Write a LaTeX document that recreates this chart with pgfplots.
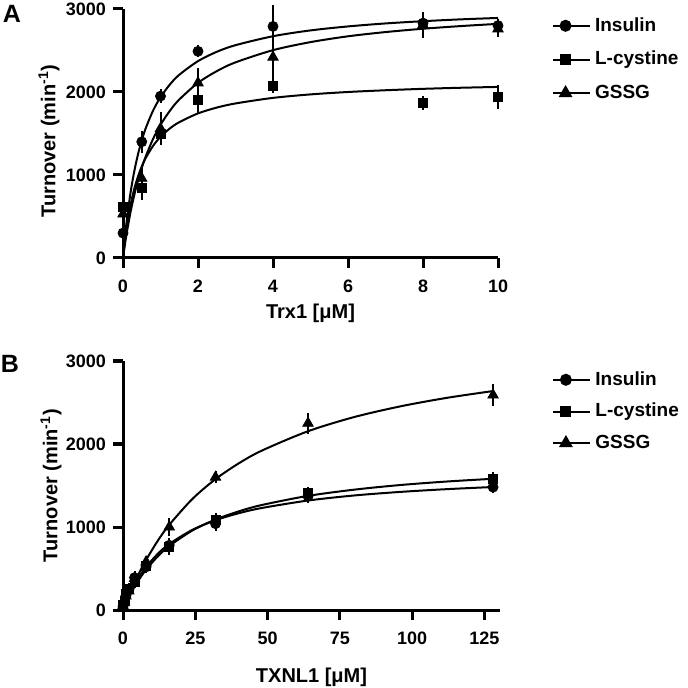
\documentclass[border=0pt]{standalone}
\usepackage{pgfplots}
\pgfplotsset{compat=1.18}
\usepackage{fontspec}
\setmainfont{Liberation Sans}

\pgfplotsset{
  myaxis/.style={
    scale only axis,
    axis lines*=left,
    axis line style={line width=1.5pt,-},
    tick align=outside,
    tickwidth=5pt,
    major tick style={draw=black, line width=1.5pt},
    ymin=0, ymax=3000, ytick={0,1000,2000,3000},
    /pgf/number format/assume math mode=true,
    /pgf/number format/1000 sep={},
    scaled ticks=false,
    clip=false,
    xticklabel style={font=\fontsize{9}{11}\selectfont\bfseries, yshift=-2.5pt},
    yticklabel style={font=\fontsize{9}{11}\selectfont\bfseries},
    label style={font=\fontsize{10}{12}\selectfont\bfseries},
    ylabel={Turnover (min\textsuperscript{-1})},
    legend style={draw=none, fill=none, anchor=north west, row sep=4.5pt,
      font=\fontsize{9.5}{11}\selectfont\bfseries},
    legend cell align=left,
    legend image code/.code={%
      \draw[mark repeat=2,mark phase=2] plot coordinates {(0cm,0cm) (0.22cm,0cm) (0.44cm,0cm)};
      \path (0.44cm,0cm) -- (0.44cm+6pt,0cm);},
  },
  curve/.style={black, line width=1pt, smooth, forget plot, no marks},
  pts/.style={black, only marks, forget plot,
    error bars/y dir=both, error bars/y explicit,
    error bars/error bar style={line width=1pt},
    error bars/error mark options={line width=1pt, mark size=2.25pt}},
}

\begin{document}
\begin{tikzpicture}
\useasboundingbox (-61.5pt,-215pt) rectangle (282.5pt,129pt);

% ---------------- Panel A ----------------
\begin{axis}[myaxis,
  at={(0pt,0pt)}, anchor=origin,
  width=187.5pt, height=124.5pt,
  xmin=0, xmax=10, xtick={0,2,...,10},
  xlabel={Trx1 [μM]},
  xlabel style={at={(axis description cs:0.5,0)}, anchor=center, yshift=-27.5pt},
  ylabel style={at={(axis description cs:0,0.47)}, anchor=center, yshift=37pt},
  legend style={at={(1.127,1.0)}},
]
\addplot[curve] coordinates {(0,0) (0.05,242.9) (0.1,450) (0.2,784.6) (0.3,1043) (0.4,1249) (0.5,1417) (0.6,1556) (0.8,1774) (1,1937) (1.25,2090) (1.5,2207) (2,2372) (2.5,2484) (3,2564) (4,2672) (5,2742) (6,2790) (7,2826) (8,2853) (9,2875) (10,2892)};
\addplot[curve] coordinates {(0,0) (0.05,203.8) (0.1,372) (0.2,635) (0.3,831) (0.4,982) (0.5,1102) (0.6,1200) (0.8,1350) (1,1459) (1.25,1561) (1.5,1636) (2,1742) (2.5,1812) (3,1862) (4,1929) (5,1971) (6,2000) (7,2021) (8,2038) (9,2051) (10,2061)};
\addplot[curve] coordinates {(0,0) (0.05,158.8) (0.1,302) (0.2,550) (0.3,757) (0.4,933) (0.5,1085) (0.6,1216) (0.8,1433) (1,1604) (1.25,1774) (1.5,1909) (2,2110) (2.5,2251) (3,2357) (4,2504) (5,2601) (6,2671) (7,2722) (8,2762) (9,2794) (10,2821)};

\addplot[pts, mark=*, mark size=2.5pt] table[x=x, y=y, y error=e] {
x y e
0 300 150
0.5 1400 80
1 1950 30
2 2490 20
4 2790 200
8 2830 50
10 2800 30
};
\addplot[pts, mark=square*, mark size=2.25pt] table[x=x, y=y, y error=e] {
x y e
0 610 60
0.5 850 100
1 1500 80
2 1900 115
4 2070 30
8 1870 30
10 1940 95
};
\addplot[pts, mark=triangle*, mark size=3pt] table[x=x, y=y, y error=e] {
x y e
0 530 60
0.5 960 100
1 1560 150
2 2110 120
4 2420 230
8 2810 100
10 2760 40
};
\addlegendimage{black, line width=1pt, mark=*, mark size=2.5pt}
\addlegendentry{Insulin}
\addlegendimage{black, line width=1pt, mark=square*, mark size=2.25pt}
\addlegendentry{L-cystine}
\addlegendimage{black, line width=1pt, mark=triangle*, mark size=3pt}
\addlegendentry{GSSG}
\end{axis}

% ---------------- Panel B ----------------
\begin{axis}[myaxis,
  at={(0pt,-176pt)}, anchor=origin,
  width=188.5pt, height=124.5pt,
  xmin=0, xmax=130.4, xtick={0,25,...,125},
  xlabel={TXNL1 [μM]},
  xlabel style={at={(axis description cs:0.5,0)}, anchor=center, yshift=-33.5pt},
  ylabel style={at={(axis description cs:0,0.5)}, anchor=center, yshift=36pt},
  legend style={at={(1.122,0.992)}, row sep=3.5pt},
]
\addplot[curve] coordinates {(0,0) (1,88.9) (2,169) (4,307.3) (6,422.5) (8,520) (12,676) (16,795.3) (24,965.7) (32,1082) (40,1166) (48,1229) (64,1319) (80,1380) (96,1423) (112,1456) (128,1482)};
\addplot[curve] coordinates {(0,0) (1,78.8) (2,151.2) (4,279.7) (6,390.2) (8,486.3) (12,645.1) (16,771) (24,957.9) (32,1090) (40,1188) (48,1265) (64,1375) (80,1450) (96,1506) (112,1548) (128,1581)};
\addplot[curve] coordinates {(0,0) (1,89.5) (2,174.4) (4,331.7) (6,474.4) (8,604.4) (12,832.7) (16,1026) (24,1338) (32,1577) (40,1766) (48,1920) (64,2154) (80,2325) (96,2454) (112,2556) (128,2638)};

\addplot[pts, mark=*, mark size=2.5pt] table[x=x, y=y, y error=e] {
x y e
0 40 20
0.5 90 20
1 170 20
2 240 20
4 390 20
8 520 20
16 780 30
32 1040 30
64 1370 30
128 1480 20
};
\addplot[pts, mark=square*, mark size=2.25pt] table[x=x, y=y, y error=e] {
x y e
0 60 20
0.5 110 20
1 190 20
2 250 20
4 340 20
8 530 20
16 760 40
32 1090 20
64 1410 20
128 1580 30
};
\addplot[pts, mark=triangle*, mark size=3pt] table[x=x, y=y, y error=e] {
x y e
0 50 20
0.5 100 20
1 170 20
2 230 20
4 380 20
8 580 20
16 1000 60
32 1600 20
64 2250 70
128 2590 80
};
\addlegendimage{black, line width=1pt, mark=*, mark size=2.5pt}
\addlegendentry{Insulin}
\addlegendimage{black, line width=1pt, mark=square*, mark size=2.25pt}
\addlegendentry{L-cystine}
\addlegendimage{black, line width=1pt, mark=triangle*, mark size=3pt}
\addlegendentry{GSSG}
\end{axis}

% outward tick marks (axis decoration)
\foreach \t in {0,37.5,75,112.5,150,187.5}{\draw[black, line width=1.5pt] (\t pt,0pt) -- (\t pt,-5pt);}
\foreach \t in {0,41.5,83,124.5}{\draw[black, line width=1.5pt] (0pt,\t pt) -- (-5pt,\t pt);}
\foreach \t in {0,36.14,72.28,108.42,144.56,180.69}{\draw[black, line width=1.5pt] (\t pt,-176pt) -- (\t pt,-181pt);}
\foreach \t in {-176,-134.5,-93,-51.5}{\draw[black, line width=1.5pt] (0pt,\t pt) -- (-5pt,\t pt);}

\node[font=\fontsize{12.5}{14}\selectfont\bfseries] at (-55.5pt,122pt) {A};
\node[font=\fontsize{12.5}{14}\selectfont\bfseries] at (-56.5pt,-53pt) {B};
\end{tikzpicture}
\end{document}
